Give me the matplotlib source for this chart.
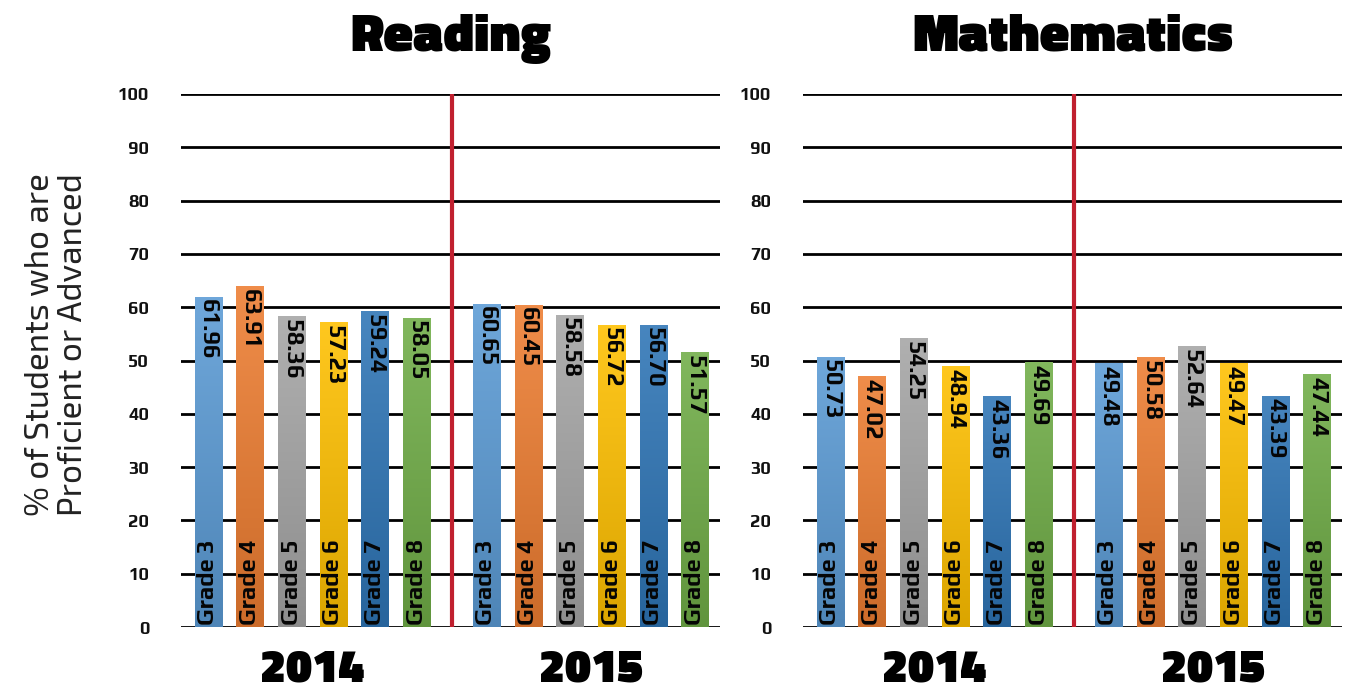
import numpy as np
import matplotlib
matplotlib.use("Agg")
import matplotlib.pyplot as plt
from matplotlib.colors import to_rgb

# ---- data ----
subjects = ["Reading", "Mathematics"]
years = ["2014", "2015"]
grades = ["Grade 3", "Grade 4", "Grade 5", "Grade 6", "Grade 7", "Grade 8"]
reading_2014 = [61.96, 63.91, 58.36, 57.23, 59.24, 58.05]
reading_2015 = [60.65, 60.45, 58.58, 56.72, 56.70, 51.57]
math_2014 = [50.73, 47.02, 54.25, 48.94, 43.36, 49.69]
math_2015 = [49.48, 50.58, 52.64, 49.47, 43.39, 47.44]
yticks = [0, 10, 20, 30, 40, 50, 60, 70, 80, 90, 100]
ylabel = "% of Students who are\nProficient or Advanced"

colors = ["#5B9BD5", "#ED7D31", "#A5A5A5", "#FFC000", "#2E75B6", "#70AD47"]

fig = plt.figure(figsize=(13.46, 6.93), dpi=100)

panels = [(reading_2014, reading_2015), (math_2014, math_2015)]
lefts = [181 / 1346, 803 / 1346]
width = 539 / 1346
bottom = 1 - 627 / 693
height = (627 - 94) / 693

gap = 1.67
heavy = ["Titillium Web", "Kanit", "DejaVu Sans"]
body = ["Play", "Kanit", "DejaVu Sans"]
light = ["Exo 2", "DejaVu Sans"]


def gradient_bar(ax, bar, color):
    c = np.array(to_rgb(color))
    top = 1 - (1 - c) * 0.88
    bot = c * 0.86
    t = np.linspace(0, 1, 64)[:, None]
    img = top[None, :] * t + bot[None, :] * (1 - t)
    img = img[:, None, :]
    x0, y0 = bar.get_x(), bar.get_y()
    w, h = bar.get_width(), bar.get_height()
    im = ax.imshow(img, extent=(x0, x0 + w, y0, y0 + h), origin="lower",
                   aspect="auto", zorder=3, interpolation="bilinear")
    im.set_clip_path(bar)


for pi, (subj, (v14, v15)) in enumerate(zip(subjects, panels)):
    ax = fig.add_axes([lefts[pi], bottom, width, height])
    n = len(grades)
    x14 = np.arange(n)
    x15 = np.arange(n) + (n - 1) + gap
    for xs, vals in [(x14, v14), (x15, v15)]:
        bars = ax.bar(xs, vals, width=0.65, color=colors, zorder=2)
        for b, col, val, g in zip(bars, colors, vals, grades):
            gradient_bar(ax, b, col)
            cx = b.get_x() + b.get_width() / 2
            ax.text(cx, val - 0.5, f"{val:.2f}", rotation=270, ha="center", va="top",
                    fontsize=17, fontweight="bold", family=body,
                    color="#050505", zorder=5)
            ax.text(cx, 0.3, g, rotation=90, ha="center", va="bottom",
                    fontsize=17, fontweight="bold", family=body,
                    color="#050505", zorder=5)
    sep = (x14[-1] + x15[0]) / 2
    ax.axvline(sep, color="#C0202F", lw=3.0, zorder=4)
    ax.set_xlim(-0.65, x15[-1] + 0.6)
    ax.set_ylim(0, 100)
    ax.set_yticks(yticks)
    ax.yaxis.grid(True, color="black", lw=2.0, zorder=1)
    ax.set_axisbelow(True)
    ax.tick_params(axis="y", length=0, pad=23, labelsize=13)
    for lab in ax.get_yticklabels():
        lab.set_fontweight("bold")
        lab.set_family(body)
        lab.set_color("#111111")
    ax.set_xticks([])
    for s in ax.spines.values():
        s.set_visible(False)
    ax.set_title(subj, fontsize=39, pad=31, family=heavy, fontweight=900)
    ax.text((x14[0] + x14[-1]) / 2, -10.3, years[0], ha="center", va="baseline",
            fontsize=34, clip_on=False, family=heavy, fontweight=900)
    ax.text((x15[0] + x15[-1]) / 2, -10.3, years[1], ha="center", va="baseline",
            fontsize=34, clip_on=False, family=heavy, fontweight=900)

fig.text(57 / 1346, 1 - 345 / 693, ylabel, rotation=90, ha="center", va="center",
         fontsize=24, family=light, color="#222222", linespacing=1.1)

fig.savefig("out.png", dpi=100)
